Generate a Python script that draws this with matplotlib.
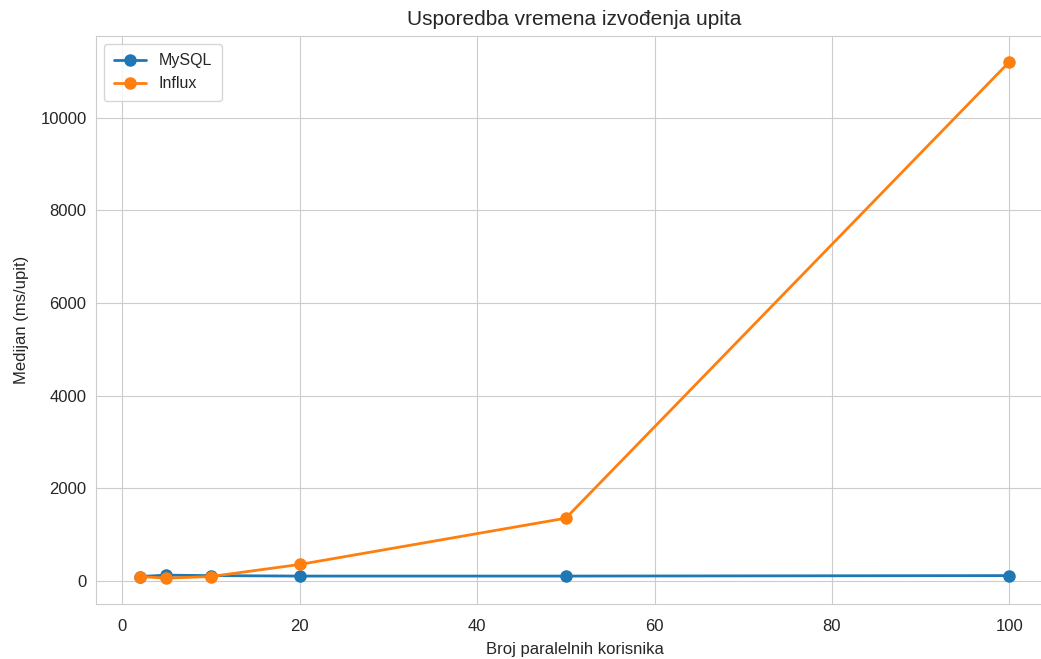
import matplotlib
matplotlib.use("Agg")
import matplotlib.pyplot as plt
import seaborn as sns

# broj paralelnih korisnika
korisnici = [2, 5, 10, 20, 50, 100]
# medijan vremena izvođenja (ms/upit)
mysql_medijan = [90, 120, 110, 100, 100, 110]
influx_medijan = [90, 55, 90, 350, 1350, 11210]

sns.set_style("whitegrid")
plt.rcParams['font.family'] = ['Liberation Sans', 'DejaVu Sans']

fig = plt.figure(figsize=(10.41, 6.59), dpi=100)
ax = fig.add_axes([0.0925, 0.0835, 0.919, 0.862])

ax.plot(korisnici, mysql_medijan, marker='o', color='#1f77b4',
        linewidth=2, markersize=8, label='MySQL')
ax.plot(korisnici, influx_medijan, marker='o', color='#ff7f0e',
        linewidth=2, markersize=8, label='Influx')

ax.set_title('Usporedba vremena izvođenja upita', fontsize=15, pad=8)
ax.set_xlabel('Broj paralelnih korisnika', fontsize=12, labelpad=6)
ax.set_ylabel('Medijan (ms/upit)', fontsize=12, labelpad=8)
ax.tick_params(labelsize=12)
ax.tick_params(axis='x', pad=7)
ax.legend(loc='upper left', fontsize=11.5, borderpad=0.6)

fig.savefig('out.png', dpi=100)
